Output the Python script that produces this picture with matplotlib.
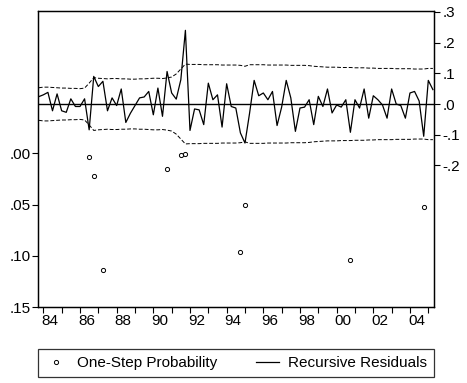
import numpy as np
import matplotlib
matplotlib.use("Agg")
from matplotlib import pyplot as plt

plt.rcParams['font.family'] = ['Liberation Sans', 'DejaVu Sans']

# quarterly observations, first one at 1983Q4
start_year = 1983.75
resid = [0.024, 0.030, 0.038, -0.022, 0.033, -0.022, -0.027, 0.017, -0.008, -0.008,
         0.017, -0.084, 0.090, 0.057, 0.074, -0.022, 0.020, -0.005, 0.049, -0.060,
         -0.030, -0.005, 0.020, 0.023, 0.041, -0.035, 0.052, -0.040, 0.106, 0.036,
         0.016, 0.079, 0.240, -0.086, -0.016, -0.019, -0.067, 0.068, 0.014, 0.030,
         -0.075, 0.066, -0.008, -0.013, -0.094, -0.127, -0.030, 0.077, 0.027, 0.036,
         0.014, 0.041, -0.070, -0.010, 0.077, 0.020, -0.089, -0.013, -0.010, 0.014,
         -0.067, 0.025, -0.008, 0.049, -0.029, -0.003, -0.010, 0.014, -0.092, 0.014,
         -0.013, 0.049, -0.046, 0.027, 0.014, -0.003, -0.046, 0.049, 0.000, -0.005,
         -0.046, 0.036, 0.041, 0.010, -0.105, 0.077, 0.047]
# two standard error band (half width)
band = [0.053, 0.055, 0.055, 0.054, 0.053, 0.052, 0.052, 0.051, 0.051, 0.050,
        0.052, 0.068, 0.086, 0.084, 0.083, 0.082, 0.083, 0.083, 0.082, 0.082,
        0.081, 0.081, 0.082, 0.082, 0.083, 0.084, 0.084, 0.083, 0.085, 0.088,
        0.098, 0.114, 0.130, 0.129, 0.129, 0.129, 0.128, 0.128, 0.128, 0.128,
        0.127, 0.127, 0.127, 0.127, 0.126, 0.123, 0.128, 0.128, 0.128, 0.128,
        0.127, 0.127, 0.127, 0.127, 0.127, 0.126, 0.126, 0.126, 0.126, 0.125,
        0.123, 0.122, 0.121, 0.120, 0.120, 0.120, 0.119, 0.119, 0.119, 0.118,
        0.118, 0.118, 0.117, 0.117, 0.116, 0.116, 0.116, 0.116, 0.115, 0.115,
        0.115, 0.115, 0.114, 0.114, 0.114, 0.116, 0.116]
# one-step probabilities (only those below .15 are visible)
prob_idx = [11, 12, 14, 28, 31, 32, 44, 45, 68, 84]
prob_vals = [0.004, 0.022, 0.114, 0.015, 0.002, 0.0005, 0.0965, 0.050, 0.104, 0.052]

year_ticks = list(range(1984, 2006))
year_labels = ['84', '86', '88', '90', '92', '94', '96', '98', '00', '02', '04']

x = start_year + 0.25 * np.arange(len(resid))
band = np.array(band)

fig = plt.figure(figsize=(4.67, 3.83), dpi=100)
ax = fig.add_axes([0.0814, 0.1984, 0.8479, 0.7729])
ax2 = ax.twinx()

# residuals on right axis
ax2.axhline(0, color='black', lw=1.0)
ax2.plot(x, band, color='black', lw=0.7, ls=(0, (4, 2)))
ax2.plot(x, -band, color='black', lw=0.7, ls=(0, (4, 2)))
res_line, = ax2.plot(x, resid, color='black', lw=0.9)
ax2.set_ylim(-0.661, 0.303)
ax2.set_yticks([0.3, 0.2, 0.1, 0.0, -0.1, -0.2])
ax2.set_yticklabels(['.3', '.2', '.1', '.0', '-.1', '-.2'])

# probabilities on left axis (inverted)
prob_x = [x[i] for i in prob_idx]
pts, = ax.plot(prob_x, prob_vals, ls='none', marker='o', ms=3, mfc='white',
               mec='black', mew=0.7)
ax.set_ylim(0.15, -0.139)
ax.set_yticks([0.0, 0.05, 0.10, 0.15])
ax.set_yticklabels(['.00', '.05', '.10', '.15'])

ax.set_xlim(1983.71, 2005.31)
ax.set_xticks(year_ticks)
ax.set_xticklabels([])
ax.set_xticks([1984.35 + 2 * k for k in range(len(year_labels))], minor=True)
ax.set_xticklabels(year_labels, minor=True)
ax.tick_params(axis='x', which='major', direction='out', length=4, width=0.8, top=False)
ax.tick_params(axis='x', which='minor', length=0, pad=5, labelsize=11)
ax.tick_params(axis='y', direction='out', length=4, width=0.8, labelsize=11, pad=1)
ax2.tick_params(axis='y', direction='out', length=4, width=0.8, labelsize=11, pad=2)

for a in (ax, ax2):
    for s in a.spines.values():
        s.set_linewidth(0.9)

leg = fig.legend([pts, res_line], ['One-Step Probability', 'Recursive Residuals'],
                 loc='center', ncol=2, bbox_to_anchor=(0.0814, 0.016, 0.8479, 0.072),
                 mode='expand', frameon=True, fancybox=False, edgecolor='black',
                 fontsize=11, handlelength=1.5, handletextpad=0.6, borderpad=0.45,
                 columnspacing=1.0, borderaxespad=0)
leg.get_frame().set_linewidth(0.9)

fig.savefig('out.png', dpi=100)
